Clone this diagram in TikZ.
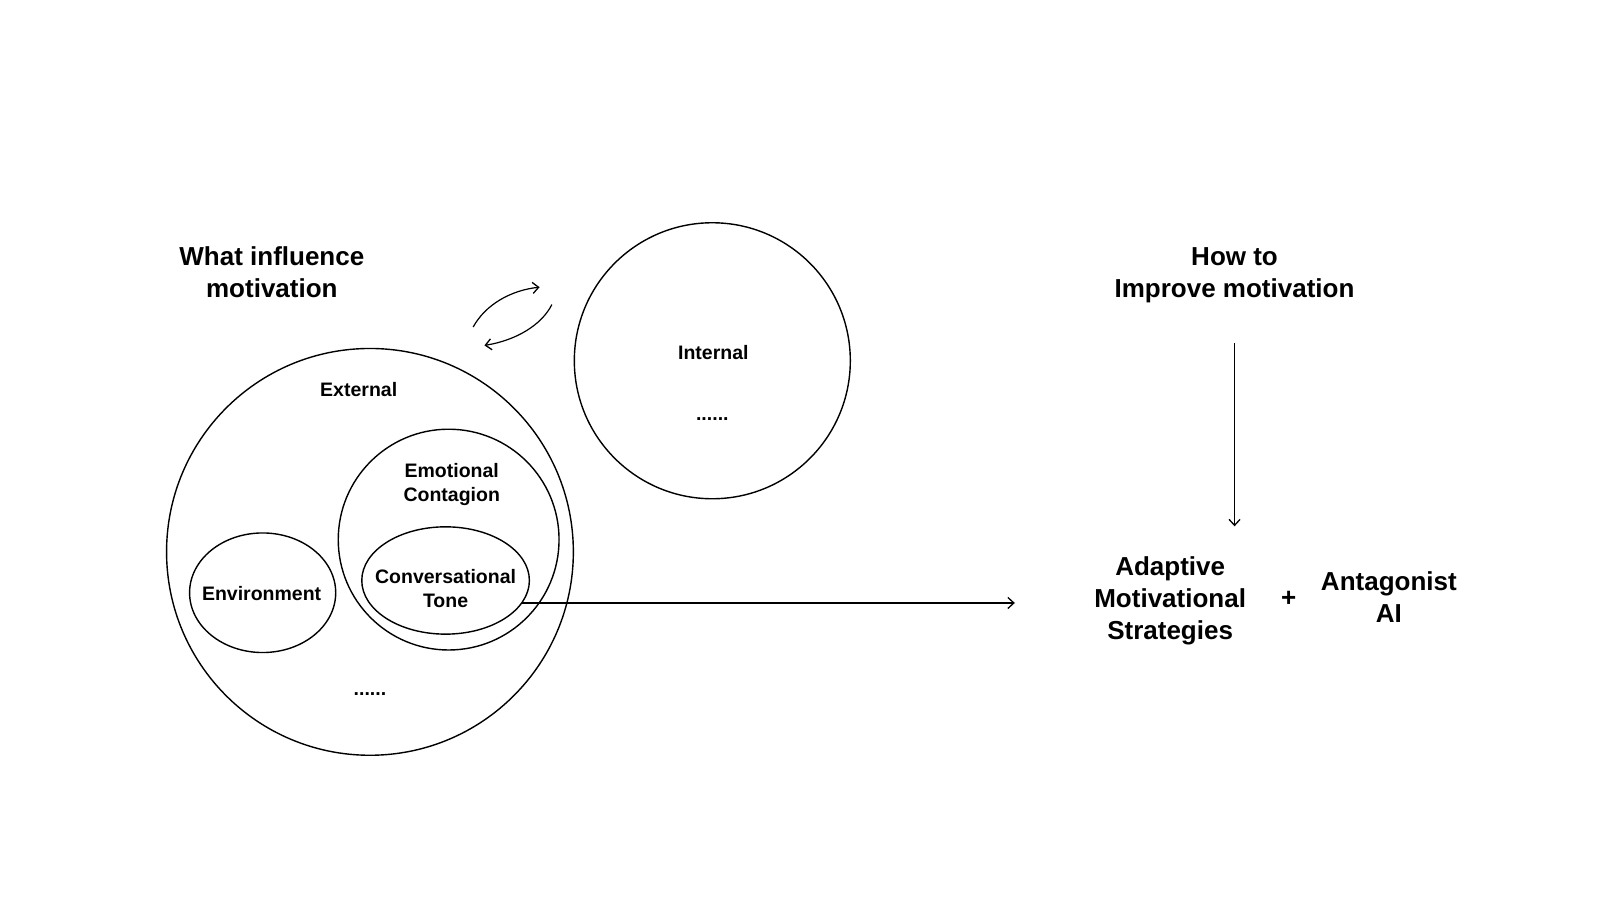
\documentclass[tikz,border=0pt]{standalone}
\usepackage{fontspec}
\setmainfont{Liberation Sans}
\usetikzlibrary{arrows.meta}
\begin{document}
\begin{tikzpicture}[x=1.022pt,y=-1.022pt,
  line width=1.4pt,
  title/.style={font=\bfseries\fontsize{26}{32}\selectfont, align=center, inner sep=0pt},
  lab/.style={font=\bfseries\fontsize{19.5}{24.5}\selectfont, align=center, inner sep=0pt},
  ring/.style={draw, circle, inner sep=0pt},
  arr/.style={-{Straight Barb[length=6pt,width=11pt,line width=1.3pt]}}
]
\useasboundingbox (0,0) rectangle (1565.6,880.6);
\fill[white] (0,0) rectangle (1565.6,880.6);

% titles
\node[title] (t1) at (266,266) {What influence\\motivation};
\node[title] (t2) at (1208,269) {How to\\Improve motivation};

% external
\node[ring, minimum size=406.8pt] (ext) at (362,540) {};
\node[lab] (extl) at (351,381) {External};
\node[lab] (extd) at (362,679) {......};

% emotional contagion
\node[ring, minimum size=220.8pt] (emo) at (439,528) {};
\node[lab] (emol) at (442,474) {Emotional\\Contagion};

% conversational tone
\coordinate (ct) at (436,568);
\draw (ct) ellipse [x radius=82, y radius=52.5];
\node[lab] (ctl) at (436,576) {Conversational\\Tone};

% environment
\coordinate (env) at (257,580);
\draw (env) ellipse [x radius=71.5, y radius=58.5];
\node[lab] (envl) at (256,581) {Environment};

% internal
\node[ring, minimum size=276pt] (int) at (697,353) {};
\node[lab] (intl) at (698,345) {Internal};
\node[lab] (intd) at (697,410) {......};

% swap arrows
\coordinate (s1a) at (463,320);
\coordinate (s1b) at (528,281);
\coordinate (s2a) at (540,298);
\coordinate (s2b) at (474,338);
\draw[arr, line width=1.2pt] (s1a) .. controls (475,298) and (500,284) .. (s1b);
\draw[arr, line width=1.2pt] (s2a) .. controls (530,318) and (505,333) .. (s2b);

% horizontal arrow
\coordinate (hs) at (511,590);
\coordinate (he) at (993,590);
\draw[arr] (hs) -- (he);

% vertical arrow
\coordinate (vs) at (1208,336);
\coordinate (ve) at (1208,515);
\draw[arr] (vs) -- (ve);

% bottom right
\node[title] (ams) at (1145,588) {Adaptive\\Motivational\\Strategies};
\node[title] (plus) at (1261,586) {+};
\node[title] (ai) at (1359,584) {Antagonist\\AI};
\end{tikzpicture}
\end{document}
